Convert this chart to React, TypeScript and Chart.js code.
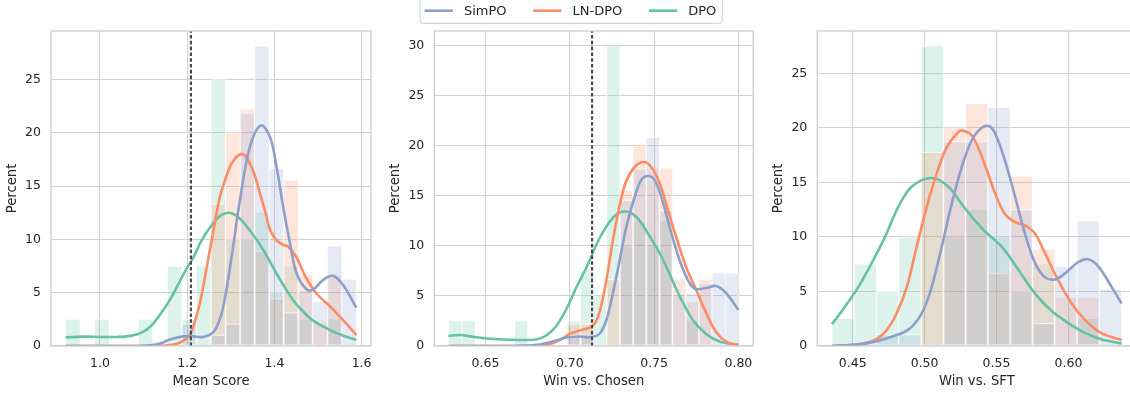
import React, { useEffect, useRef } from "react";
import { Chart, registerables } from "chart.js";

Chart.register(...registerables);
Chart.defaults.font.family = '"DejaVu Sans", "Liberation Sans", sans-serif';

// ---------------- data ----------------
const SERIES_NAMES = ["SimPO", "LN-DPO", "DPO"];
const SERIES_COLORS = ["#8da0cb", "#fc8d62", "#66c2a5"];
const Y_LABEL = "Percent";

// Panel 1 : Mean Score
const P1_X_LABEL = "Mean Score";
const P1_BIN_START = 0.921;
const P1_BIN_WIDTH = 0.03336;
const P1_HIST_SIMPO = [0, 0, 0, 0, 0, 0, 0, 0, 2.08, 0, 1.04, 2.08, 21.88, 28.13, 16.67, 3.13, 5.21, 4.17, 9.38, 6.25];
const P1_HIST_LNDPO = [0, 0, 0, 0, 0, 0, 0, 0, 0, 0, 13.33, 20, 22.22, 8.89, 4.44, 15.56, 6.67, 2.22, 6.67, 0];
const P1_HIST_DPO = [2.5, 0, 2.5, 0, 0, 2.5, 0, 7.5, 2.5, 7.5, 25, 10, 10, 12.5, 5, 7.5, 2.5, 0, 2.5, 0];
const P1_KDE_SIMPO: [number, number][] = [
  [0.921, 0], [1.08, 0], [1.12, 0.1], [1.14, 0.25], [1.16, 0.6], [1.19, 0.9], [1.214, 0.9], [1.237, 0.85],
  [1.26, 1.3], [1.272, 2.2], [1.283, 3.7], [1.302, 8.4], [1.321, 13.7], [1.344, 18.7], [1.369, 20.7],
  [1.39, 19.6], [1.405, 16.8], [1.42, 13.1], [1.436, 9.6], [1.451, 6.8], [1.474, 5.3], [1.489, 5.3],
  [1.512, 6.2], [1.535, 6.6], [1.558, 5.7], [1.588, 3.6],
];
const P1_KDE_LNDPO: [number, number][] = [
  [0.921, 0], [1.1, 0], [1.15, 0.05], [1.176, 0.2], [1.195, 0.6], [1.206, 1.0], [1.217, 2.2], [1.229, 4.0],
  [1.24, 6.3], [1.252, 9.0], [1.264, 11.7], [1.275, 14.0], [1.287, 15.6], [1.298, 16.8], [1.31, 17.6],
  [1.323, 18.0], [1.334, 17.8], [1.344, 17.1], [1.356, 15.9], [1.367, 14.3], [1.379, 12.6], [1.39, 10.9],
  [1.405, 9.9], [1.42, 9.5], [1.432, 9.3], [1.451, 8.3], [1.462, 7.3], [1.474, 6.3], [1.497, 4.9],
  [1.528, 3.7], [1.558, 2.4], [1.588, 1.03],
];
const P1_KDE_DPO: [number, number][] = [
  [0.921, 0.8], [0.96, 0.88], [1.0, 0.85], [1.04, 0.85], [1.07, 0.95], [1.095, 1.25], [1.115, 1.8],
  [1.137, 2.9], [1.16, 4.3], [1.176, 5.5], [1.195, 7.0], [1.214, 8.3], [1.233, 9.9], [1.252, 11.1],
  [1.275, 12.2], [1.294, 12.5], [1.31, 12.3], [1.329, 11.6], [1.348, 10.6], [1.367, 9.5], [1.386, 8.2],
  [1.405, 6.8], [1.424, 5.5], [1.443, 4.3], [1.462, 3.4], [1.482, 2.6], [1.5, 2.1], [1.52, 1.65],
  [1.54, 1.25], [1.558, 0.97], [1.588, 0.56],
];
const P1_REF_LINE = 1.2085;
const P1_X_TICKS = [1.0, 1.2, 1.4, 1.6];
const P1_Y_TICKS = [0, 5, 10, 15, 20, 25];
const P1_X_MIN = 0.8876;
const P1_X_MAX = 1.6216;
const P1_Y_MAX = 29.55;

// Panel 2 : Win vs. Chosen
const P2_X_LABEL = "Win vs. Chosen";
const P2_BIN_START = 0.6282;
const P2_BIN_WIDTH = 0.00781;
const P2_HIST_SIMPO = [0, 0, 0, 0, 0, 0, 0, 0, 0, 1.04, 1.04, 0, 0, 14.58, 17.71, 20.83, 13.54, 5.21, 5.21, 6.25, 7.29, 7.29];
const P2_HIST_LNDPO = [0, 0, 0, 0, 0, 0, 0, 0, 0, 2.22, 2.22, 0, 6.67, 15.56, 20, 17.78, 17.78, 6.67, 4.44, 6.67, 0, 0];
const P2_HIST_DPO = [2.5, 2.5, 0, 0, 0, 2.5, 0, 0, 0, 2.5, 7.5, 5, 30, 10, 12.5, 10, 12.5, 0, 2.5, 0, 0, 0];
const P2_KDE_SIMPO: [number, number][] = [
  [0.628, 0], [0.665, 0], [0.675, 0.05], [0.682, 0.15], [0.69, 0.45], [0.698, 0.85], [0.706, 0.95],
  [0.7128, 0.9], [0.7178, 1.25], [0.7217, 2.6], [0.7256, 5.3], [0.7296, 8.6], [0.7335, 11.9],
  [0.7385, 14.9], [0.7424, 16.6], [0.7463, 17.0], [0.7503, 16.6], [0.7543, 14.9], [0.7592, 11.9],
  [0.7651, 8.6], [0.771, 6.3], [0.775, 5.7], [0.7809, 5.8], [0.7868, 6.0], [0.7927, 5.3], [0.8, 3.6],
];
const P2_KDE_LNDPO: [number, number][] = [
  [0.628, 0], [0.68, 0], [0.688, 0.2], [0.694, 0.6], [0.7, 1.2], [0.706, 1.55], [0.712, 1.85],
  [0.715, 2.3], [0.718, 3.6], [0.7217, 6.6], [0.7256, 10.6], [0.7296, 14.1], [0.7335, 16.5],
  [0.7385, 17.9], [0.7438, 18.4], [0.7483, 17.9], [0.7533, 16.3], [0.7582, 13.6], [0.7631, 10.9],
  [0.769, 7.9], [0.775, 5.6], [0.7809, 3.3], [0.7868, 1.4], [0.7927, 0.45], [0.8, 0.1],
];
const P2_KDE_DPO: [number, number][] = [
  [0.628, 1.0], [0.635, 1.1], [0.643, 0.9], [0.653, 0.72], [0.666, 0.62], [0.68, 0.65], [0.686, 1.05],
  [0.692, 2.0], [0.698, 3.7], [0.704, 5.9], [0.71, 7.9], [0.718, 10.9], [0.726, 12.9], [0.7325, 13.45],
  [0.7395, 12.9], [0.7473, 11.0], [0.7533, 9.3], [0.7592, 7.2], [0.7651, 5.0], [0.773, 2.6],
  [0.7809, 1.2], [0.7888, 0.45], [0.8, 0.1],
];
const P2_REF_LINE = 0.7132;
const P2_X_TICKS = [0.65, 0.7, 0.75, 0.8];
const P2_Y_TICKS = [0, 5, 10, 15, 20, 25, 30];
const P2_X_MIN = 0.6196;
const P2_X_MAX = 0.8088;
const P2_Y_MAX = 31.5;

// Panel 3 : Win vs. SFT
const P3_X_LABEL = "Win vs. SFT";
const P3_BIN_START = 0.4356;
const P3_BIN_WIDTH = 0.01549;
const P3_HIST_SIMPO = [0, 0, 1.04, 1.04, 0, 18.75, 18.75, 21.88, 12.5, 2.08, 7.29, 11.46, 5.21];
const P3_HIST_LNDPO = [0, 0, 0, 0, 17.78, 20, 22.22, 6.67, 15.56, 8.89, 4.44, 4.44, 0];
const P3_HIST_DPO = [2.5, 7.5, 5, 10, 27.5, 10, 12.5, 10, 5, 7.5, 0, 2.5, 0];
const P3_KDE_SIMPO: [number, number][] = [
  [0.4356, 0], [0.4539, 0.15], [0.4655, 0.4], [0.4771, 0.85], [0.4887, 1.5], [0.498, 3.0], [0.5049, 5.4],
  [0.5119, 9.1], [0.5188, 13.0], [0.5258, 16.4], [0.5328, 18.85], [0.5397, 20.0], [0.545, 20.15],
  [0.549, 19.5], [0.5559, 17.0], [0.5629, 13.7], [0.5698, 10.3], [0.5768, 7.6], [0.5837, 6.3],
  [0.5907, 6.1], [0.5976, 6.65], [0.6069, 7.7], [0.6138, 7.95], [0.6208, 7.3], [0.6301, 5.4], [0.637, 3.9],
];
const P3_KDE_LNDPO: [number, number][] = [
  [0.4356, 0], [0.4539, 0.15], [0.4655, 0.55], [0.4736, 1.45], [0.4806, 3.0], [0.4876, 5.4], [0.4945, 9.1],
  [0.5015, 12.75], [0.5084, 15.8], [0.5154, 18.2], [0.5234, 19.6], [0.5262, 19.75], [0.5328, 19.3],
  [0.5397, 17.4], [0.549, 14.0], [0.5559, 12.1], [0.5629, 11.35], [0.5698, 11.05], [0.5768, 10.3],
  [0.5837, 8.5], [0.593, 6.0], [0.6023, 3.9], [0.6115, 2.4], [0.6232, 1.15], [0.637, 0.55],
];
const P3_KDE_DPO: [number, number][] = [
  [0.4356, 2.0], [0.4446, 3.6], [0.4539, 5.4], [0.4632, 7.6], [0.4725, 10.0], [0.4817, 12.75],
  [0.491, 14.6], [0.5049, 15.4], [0.5165, 14.6], [0.5281, 12.6], [0.5351, 11.5], [0.542, 10.5],
  [0.5536, 9.1], [0.5652, 7.0], [0.5768, 4.8], [0.5884, 3.2], [0.6, 2.1], [0.6115, 1.2], [0.6232, 0.6],
  [0.637, 0.24],
];
const P3_X_TICKS = [0.45, 0.5, 0.55, 0.6];
const P3_Y_TICKS = [0, 5, 10, 15, 20, 25];
const P3_X_MIN = 0.4254;
const P3_X_MAX = 0.6472;
const P3_Y_MAX = 28.875;

// ---------------- layout / style ----------------
const FIG_W = 1130;
const FIG_H = 396;
const AREA_TOP = 31;
const AREA_BOTTOM = 346;
const Y_SCALE_W = 50;
const TEXT_COLOR = "#262626";
const GRID_COLOR = "#d2d2d2";
const SPINE_COLOR = "#cccccc";
const BAR_ALPHA = 0.22;

type Panel = {
  xLabel: string;
  binStart: number;
  binWidth: number;
  hists: number[][];
  kdes: [number, number][][];
  refLine: number | null;
  xTicks: number[];
  yTicks: number[];
  xMin: number;
  xMax: number;
  yMax: number;
  xDecimals: number;
  canvasLeft: number;
  canvasWidth: number;
  areaLeft: number;
  areaRight: number;
  legend: boolean;
};

const PANELS: Panel[] = [
  {
    xLabel: P1_X_LABEL, binStart: P1_BIN_START, binWidth: P1_BIN_WIDTH,
    hists: [P1_HIST_SIMPO, P1_HIST_LNDPO, P1_HIST_DPO], kdes: [P1_KDE_SIMPO, P1_KDE_LNDPO, P1_KDE_DPO],
    refLine: P1_REF_LINE, xTicks: P1_X_TICKS, yTicks: P1_Y_TICKS, xMin: P1_X_MIN, xMax: P1_X_MAX,
    yMax: P1_Y_MAX, xDecimals: 1, canvasLeft: 0, canvasWidth: 380, areaLeft: 51, areaRight: 371, legend: false,
  },
  {
    xLabel: P2_X_LABEL, binStart: P2_BIN_START, binWidth: P2_BIN_WIDTH,
    hists: [P2_HIST_SIMPO, P2_HIST_LNDPO, P2_HIST_DPO], kdes: [P2_KDE_SIMPO, P2_KDE_LNDPO, P2_KDE_DPO],
    refLine: P2_REF_LINE, xTicks: P2_X_TICKS, yTicks: P2_Y_TICKS, xMin: P2_X_MIN, xMax: P2_X_MAX,
    yMax: P2_Y_MAX, xDecimals: 2, canvasLeft: 380, canvasWidth: 380, areaLeft: 434.3, areaRight: 753.2, legend: true,
  },
  {
    xLabel: P3_X_LABEL, binStart: P3_BIN_START, binWidth: P3_BIN_WIDTH,
    hists: [P3_HIST_SIMPO, P3_HIST_LNDPO, P3_HIST_DPO], kdes: [P3_KDE_SIMPO, P3_KDE_LNDPO, P3_KDE_DPO],
    refLine: null, xTicks: P3_X_TICKS, yTicks: P3_Y_TICKS, xMin: P3_X_MIN, xMax: P3_X_MAX,
    yMax: P3_Y_MAX, xDecimals: 2, canvasLeft: 760, canvasWidth: 380, areaLeft: 817.3, areaRight: 1136.3, legend: false,
  },
];

function rgba(hex: string, a: number) {
  const n = parseInt(hex.slice(1), 16);
  return `rgba(${(n >> 16) & 255},${(n >> 8) & 255},${n & 255},${a})`;
}

const spinePlugin = {
  id: "spines",
  afterDatasetsDraw(chart: any) {
    const { ctx, chartArea } = chart;
    ctx.save();
    ctx.strokeStyle = SPINE_COLOR;
    ctx.lineWidth = 1.25;
    ctx.strokeRect(chartArea.left, chartArea.top, chartArea.right - chartArea.left, chartArea.bottom - chartArea.top);
    ctx.restore();
  },
};

const legendPlugin = {
  id: "boxLegend",
  afterDraw(chart: any, _args: any, opts: any) {
    if (!opts || !opts.show) return;
    const ctx = chart.ctx;
    ctx.save();
    ctx.font = '13px "DejaVu Sans"';
    const lineLen = 28.3;
    const gapText = 11;
    const gapItem = 26.7;
    const padL = 4.5;
    const padR = 6;
    const widths = SERIES_NAMES.map((s) => ctx.measureText(s).width);
    let total = padL + padR + gapItem * (SERIES_NAMES.length - 1);
    widths.forEach((w) => (total += lineLen + gapText + w));
    const x0 = chart.width / 2 + 1.2 - total / 2;
    const top = -3;
    const bottom = 23.3;
    const r = 3;
    ctx.beginPath();
    ctx.moveTo(x0, top);
    ctx.lineTo(x0, bottom - r);
    ctx.quadraticCurveTo(x0, bottom, x0 + r, bottom);
    ctx.lineTo(x0 + total - r, bottom);
    ctx.quadraticCurveTo(x0 + total, bottom, x0 + total, bottom - r);
    ctx.lineTo(x0 + total, top);
    ctx.closePath();
    ctx.fillStyle = "rgba(255,255,255,0.8)";
    ctx.fill();
    ctx.strokeStyle = SPINE_COLOR;
    ctx.lineWidth = 1;
    ctx.stroke();
    const cy = 10.7;
    let x = x0 + padL;
    SERIES_NAMES.forEach((name, i) => {
      ctx.beginPath();
      ctx.moveTo(x, cy);
      ctx.lineTo(x + lineLen, cy);
      ctx.strokeStyle = SERIES_COLORS[i];
      ctx.lineWidth = 2.6;
      ctx.stroke();
      x += lineLen + gapText;
      ctx.fillStyle = TEXT_COLOR;
      ctx.textBaseline = "middle";
      ctx.textAlign = "left";
      ctx.fillText(name, x, cy + 0.5);
      x += widths[i] + gapItem;
    });
    ctx.restore();
  },
};

function buildChart(canvas: HTMLCanvasElement, p: Panel) {
  const datasets: any[] = [];
  if (p.refLine !== null) {
    datasets.push({
      type: "line",
      label: "reference",
      data: [{ x: p.refLine, y: 0 }, { x: p.refLine, y: p.yMax }],
      borderColor: "#4a4a4a",
      borderWidth: 2.2,
      borderDash: [3.6, 2.2],
      pointRadius: 0,
      fill: false,
      tension: 0,
      order: 0,
    });
  }
  p.kdes.forEach((k, i) => {
    datasets.push({
      type: "line",
      label: SERIES_NAMES[i],
      data: k.map(([x, y]) => ({ x, y })),
      borderColor: SERIES_COLORS[i],
      borderWidth: 2.6,
      pointRadius: 0,
      tension: 0.35,
      fill: false,
      order: 1 + i,
    });
  });
  p.hists.forEach((h, i) => {
    datasets.push({
      type: "bar",
      label: SERIES_NAMES[i] + " hist",
      data: h.map((v, j) => ({ x: p.binStart + (j + 0.5) * p.binWidth, y: v })),
      backgroundColor: rgba(SERIES_COLORS[i], BAR_ALPHA),
      borderColor: "rgba(255,255,255,0.85)",
      borderWidth: 0.7,
      borderSkipped: false,
      barPercentage: 1,
      categoryPercentage: 1,
      grouped: false,
      order: 10 + i,
    });
  });

  return new Chart(canvas, {
    type: "bar",
    data: { datasets },
    plugins: [spinePlugin, legendPlugin],
    options: {
      responsive: false,
      animation: false,
      events: [],
      layout: {
        padding: {
          left: p.areaLeft - p.canvasLeft - Y_SCALE_W,
          right: p.canvasLeft + p.canvasWidth - p.areaRight,
          top: AREA_TOP,
          bottom: 0,
        },
      },
      plugins: {
        legend: { display: false },
        tooltip: { enabled: false },
        boxLegend: { show: p.legend },
      } as any,
      scales: {
        x: {
          type: "linear",
          min: p.xMin,
          max: p.xMax,
          offset: false,
          grid: { color: GRID_COLOR, lineWidth: 1.1, drawTicks: false, offset: false },
          border: { display: false },
          ticks: {
            padding: 10,
            color: TEXT_COLOR,
            font: { size: 12.5 },
            maxRotation: 0,
            autoSkip: false,
            callback: (v: any) => Number(v).toFixed(p.xDecimals),
          },
          title: {
            display: true,
            text: p.xLabel,
            color: TEXT_COLOR,
            font: { size: 13.2 },
            padding: { top: 0, bottom: 7 },
          },
          afterBuildTicks: (s: any) => {
            s.ticks = p.xTicks.map((v) => ({ value: v }));
          },
          afterFit: (s: any) => {
            s.height = FIG_H - AREA_BOTTOM;
            s.paddingLeft = 0;
            s.paddingRight = 0;
          },
        },
        y: {
          type: "linear",
          min: 0,
          max: p.yMax,
          grid: { color: GRID_COLOR, lineWidth: 1.1, drawTicks: false },
          border: { display: false },
          ticks: {
            padding: 10,
            color: TEXT_COLOR,
            font: { size: 12.5 },
            callback: (v: any) => String(v),
          },
          title: {
            display: true,
            text: Y_LABEL,
            color: TEXT_COLOR,
            font: { size: 13.2 },
            padding: { top: 3.4, bottom: 0 },
          },
          afterBuildTicks: (s: any) => {
            s.ticks = p.yTicks.map((v) => ({ value: v }));
          },
          afterFit: (s: any) => {
            s.width = Y_SCALE_W;
            s.paddingTop = 0;
            s.paddingBottom = 0;
          },
        },
      },
    } as any,
  });
}

export default function App() {
  const refs = [useRef<HTMLCanvasElement>(null), useRef<HTMLCanvasElement>(null), useRef<HTMLCanvasElement>(null)];

  useEffect(() => {
    const charts = PANELS.map((p, i) => buildChart(refs[i].current as HTMLCanvasElement, p));
    return () => charts.forEach((c) => c.destroy());
  }, []);

  return (
    <div
      style={{
        position: "fixed",
        left: 0,
        top: 0,
        width: FIG_W,
        height: FIG_H,
        overflow: "hidden",
        background: "#ffffff",
      }}
    >
      {PANELS.map((p, i) => (
        <canvas
          key={i}
          ref={refs[i]}
          width={p.canvasWidth}
          height={FIG_H}
          style={{ position: "absolute", left: p.canvasLeft, top: 0, width: p.canvasWidth, height: FIG_H }}
        />
      ))}
    </div>
  );
}
